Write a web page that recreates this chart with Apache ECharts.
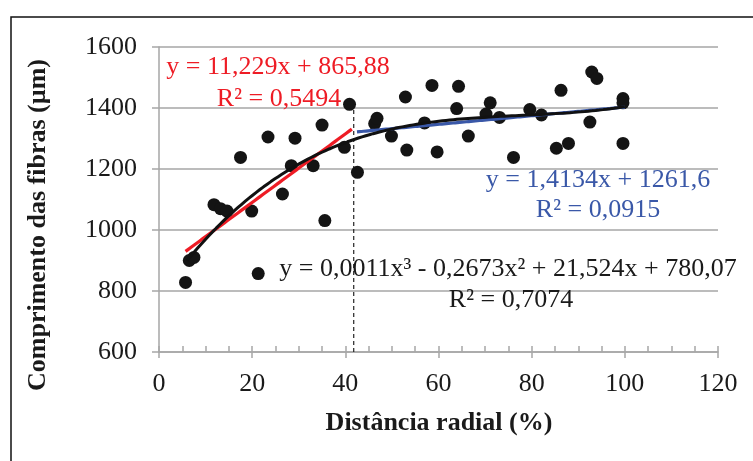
<!DOCTYPE html>
<html>
<head>
<meta charset="utf-8">
<script src="https://cdn.jsdelivr.net/npm/echarts@6/dist/echarts.min.js"></script>
<style>
html,body{margin:0;padding:0;background:#fff;}
#chart{width:753px;height:461px;}
</style>
</head>
<body>
<div id="chart"></div>
<script>
// Data
const radialDistance = [5.7,6.5,7.5,11.8,13.2,14.6,17.5,19.9,21.3,23.4,26.5,28.4,29.2,33.1,35.0,35.6,39.8,40.9,42.6,46.3,46.8,49.9,52.9,53.2,57.0,58.6,59.7,63.9,64.3,66.4,70.2,71.1,73.1,76.1,79.6,82.1,85.3,86.3,87.9,92.5,92.9,94.0,99.6,99.6,99.6];
const fiberLength = [828,900,910,1083,1070,1062,1238,1062,857,1305,1118,1211,1301,1211,1344,1031,1271,1412,1189,1349,1366,1308,1436,1262,1351,1474,1256,1398,1471,1308,1380,1417,1369,1238,1395,1377,1268,1458,1284,1354,1518,1497,1431,1417,1284];

// Trendline equations (coefficients, highest power first)
const redCoef = [11.229, 865.88];          // linear, inner zone
const redRange = [5.7, 41.4];
const blueCoef = [1.4134, 1261.6];         // linear, outer zone
const blueRange = [42.5, 100];
// cubic; leading coefficient as drawn in the picture (label shows it rounded to 0,0011)
const blackCoef = [0.001145, -0.2673, 21.524, 780.07];
const blackRange = [6, 100];
const dividerX = 41.8;
const dividerY = [600, 1405];

const xTicks = {min: 0, max: 120, interval: 20};
const yTicks = {min: 600, max: 1600, interval: 200};

const redLabel = ['y = 11,229x + 865,88', 'R² = 0,5494'];
const blueLabel = ['y = 1,4134x + 1261,6', 'R² = 0,0915'];
const blackLabel = ['y = 0,0011x³ - 0,2673x² + 21,524x + 780,07', 'R² = 0,7074'];
const xTitle = 'Distância radial (%)';
const yTitle = 'Comprimento das fibras (µm)';

function poly(coef, x){ let v = 0; for (const c of coef) v = v * x + c; return v; }
function curve(coef, range){
  const pts = []; const n = 120;
  for (let i = 0; i <= n; i++){ const x = range[0] + (range[1]-range[0]) * i / n; pts.push([x, poly(coef, x)]); }
  return pts;
}

const FONT = '"Liberation Serif", "Times New Roman", serif';
const GRAY = '#a6a6a6';
const chart = echarts.init(document.getElementById('chart'), null, {renderer: 'canvas'});

chart.setOption({
  animation: false,
  backgroundColor: '#ffffff',
  grid: {left: 159, right: 35, top: 47, bottom: 109, containLabel: false},
  xAxis: [{
    type: 'value', min: xTicks.min, max: xTicks.max, interval: xTicks.interval,
    axisLine: {show: true, onZero: false, lineStyle: {color: GRAY, width: 1.5}},
    axisTick: {show: true, length: 6, lineStyle: {color: GRAY, width: 1.5}},
    splitLine: {show: false},
    axisLabel: {fontFamily: FONT, fontSize: 26, color: '#1a1a1a', margin: 19, formatter: v => String(v)}
  }, {
    type: 'value', min: xTicks.min, max: xTicks.max, interval: 5, position: 'bottom',
    axisLine: {show: false},
    axisTick: {show: true, inside: true, length: 6, lineStyle: {color: GRAY, width: 1.5}},
    splitLine: {show: false},
    axisLabel: {show: false}
  }],
  yAxis: {
    type: 'value', min: yTicks.min, max: yTicks.max, interval: yTicks.interval,
    axisLine: {show: true, onZero: false, lineStyle: {color: GRAY, width: 1.5}},
    axisTick: {show: true, length: 7, lineStyle: {color: GRAY, width: 1.5}},
    splitLine: {show: true, lineStyle: {color: GRAY, width: 1.5}},
    axisLabel: {fontFamily: FONT, fontSize: 26, color: '#1a1a1a', margin: 22, formatter: v => String(v)}
  },
  series: [{
    type: 'scatter',
    data: radialDistance.map((x, i) => [x, fiberLength[i]]),
    symbol: 'circle', symbolSize: 13,
    itemStyle: {color: '#141414', opacity: 1},
    z: 2
  }, {
    type: 'line', data: [[dividerX, dividerY[0]], [dividerX, dividerY[1]]],
    showSymbol: false, symbol: 'none',
    lineStyle: {color: '#222', width: 1.2, type: [4, 3]}, z: 1
  }, {
    type: 'line', data: curve(redCoef, redRange), showSymbol: false, symbol: 'none',
    lineStyle: {color: '#ee1c25', width: 3.2}, z: 3
  }, {
    type: 'line', data: curve(blueCoef, blueRange), showSymbol: false, symbol: 'none',
    lineStyle: {color: '#3a58a8', width: 3.2}, z: 3
  }, {
    type: 'line', data: curve(blackCoef, blackRange), showSymbol: false, symbol: 'none', smooth: false,
    lineStyle: {color: '#111', width: 3}, z: 4
  }],
  graphic: [
    {type: 'rect', shape: {x: 11, y: 17, width: 800, height: 500}, style: {fill: 'none', stroke: '#111', lineWidth: 1.5}, silent: true, z: 0},
    {type: 'text', x: 278, y: 67, style: {text: redLabel[0], fill: '#ee1c25', font: '26px ' + FONT, align: 'center', verticalAlign: 'middle'}, z: 10},
    {type: 'text', x: 279, y: 99, style: {text: redLabel[1], fill: '#ee1c25', font: '26px ' + FONT, align: 'center', verticalAlign: 'middle'}, z: 10},
    {type: 'text', x: 598, y: 180, style: {text: blueLabel[0], fill: '#3a58a8', font: '26px ' + FONT, align: 'center', verticalAlign: 'middle'}, z: 10},
    {type: 'text', x: 598, y: 210, style: {text: blueLabel[1], fill: '#3a58a8', font: '26px ' + FONT, align: 'center', verticalAlign: 'middle'}, z: 10},
    {type: 'text', x: 508, y: 269, style: {text: blackLabel[0], fill: '#1a1a1a', font: '26px ' + FONT, align: 'center', verticalAlign: 'middle'}, z: 10},
    {type: 'text', x: 511, y: 300, style: {text: blackLabel[1], fill: '#1a1a1a', font: '26px ' + FONT, align: 'center', verticalAlign: 'middle'}, z: 10},
    {type: 'text', x: 439, y: 423, style: {text: xTitle, fill: '#1a1a1a', font: 'bold 26px ' + FONT, align: 'center', verticalAlign: 'middle'}, z: 10},
    {type: 'text', x: 38, y: 225, rotation: Math.PI / 2, style: {text: yTitle, fill: '#1a1a1a', font: 'bold 26px ' + FONT, align: 'center', verticalAlign: 'middle'}, z: 10}
  ]
});
</script>
</body>
</html>
